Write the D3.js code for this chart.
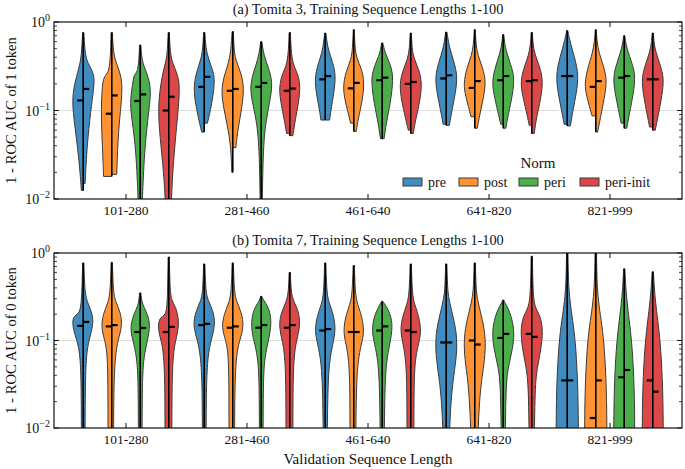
<!DOCTYPE html>
<html><head><meta charset="utf-8">
<script src="https://cdn.jsdelivr.net/npm/d3@7"></script>
<style>body{margin:0;background:#fff}text{font-family:"Liberation Serif","Times New Roman",serif;fill:#111}</style>
</head><body>
<svg id="c" width="685" height="469"></svg>
<script>
const categories = ["101-280","281-460","461-640","641-820","821-999"];
const norms = ["pre","post","peri","peri-init"];
const normColors = ["#408bbf","#ff9232","#4bae4b","#dc4748"];
const yTickValues = [1, 0.1, 0.01];
const yTickExps = ["0","\u22121","\u22122"];
const titles = ["(a) Tomita 3, Training Sequence Lengths 1-100","(b) Tomita 7, Training Sequence Lengths 1-100"];
const yLabels = ["1 - ROC AUC of 1 token","1 - ROC AUC of 0 token"];
const xLabel = "Validation Sequence Length";

// medians [left half, right half] per group, per norm
const mediansA = [
  [[0.13,0.175],[0.092,0.148],[0.128,0.152],[0.1,0.143]],
  [[0.185,0.24],[0.167,0.175],[0.185,0.205],[0.167,0.177]],
  [[0.225,0.245],[0.178,0.205],[0.22,0.235],[0.2,0.21]],
  [[0.23,0.25],[0.18,0.215],[0.22,0.245],[0.215,0.22]],
  [[0.245,0.245],[0.185,0.215],[0.235,0.245],[0.225,0.225]]
];
const mediansB = [
  [[0.147,0.163],[0.145,0.15],[0.125,0.139],[0.125,0.143]],
  [[0.15,0.155],[0.14,0.145],[0.14,0.15],[0.14,0.15]],
  [[0.13,0.135],[0.125,0.125],[0.13,0.145],[0.13,0.125]],
  [[0.095,0.095],[0.1,0.09],[0.107,0.119],[0.119,0.11]],
  [[0.035,0.035],[0.013,0.035],[0.038,0.046],[0.035,0.026]]
];

// violin half outlines: [value, relative density] from bottom to top; [left half, right half]
const shapesA = [
  [
    [[[0.0125,0.15],[0.03,0.35],[0.07,0.7],[0.13,0.9],[0.2,0.7],[0.3,0.35],[0.4,0.15],[0.76,0.05]],
     [[0.015,0.15],[0.04,0.3],[0.1,0.6],[0.18,0.85],[0.25,0.9],[0.32,0.5],[0.4,0.15],[0.76,0.05]]],
    [[[0.018,0.65],[0.04,0.75],[0.09,0.85],[0.15,0.8],[0.24,0.7],[0.26,0.3],[0.35,0.12],[0.76,0.05]],
     [[0.019,0.4],[0.05,0.5],[0.1,0.7],[0.17,0.85],[0.25,0.75],[0.33,0.4],[0.45,0.12],[0.76,0.05]]],
    [[[0.008,0.15],[0.03,0.3],[0.07,0.6],[0.12,0.85],[0.2,0.6],[0.26,0.5],[0.27,0.15],[0.55,0.05]],
     [[0.008,0.15],[0.03,0.3],[0.08,0.6],[0.15,0.85],[0.22,0.75],[0.3,0.35],[0.38,0.12],[0.55,0.05]]],
    [[[0.008,0.25],[0.02,0.4],[0.05,0.7],[0.1,0.85],[0.18,0.7],[0.3,0.4],[0.4,0.12],[0.76,0.05]],
     [[0.008,0.2],[0.02,0.3],[0.06,0.6],[0.14,0.85],[0.22,0.85],[0.3,0.5],[0.4,0.12],[0.76,0.05]]]
  ],
  [
    [[[0.057,0.2],[0.08,0.45],[0.13,0.75],[0.19,0.85],[0.28,0.6],[0.4,0.2],[0.55,0.1],[0.76,0.05]],
     [[0.072,0.25],[0.1,0.5],[0.16,0.75],[0.24,0.85],[0.32,0.55],[0.45,0.18],[0.6,0.1],[0.76,0.05]]],
    [[[0.02,0.08],[0.04,0.15],[0.07,0.45],[0.12,0.8],[0.17,0.9],[0.25,0.7],[0.38,0.2],[0.78,0.05]],
     [[0.038,0.25],[0.06,0.4],[0.11,0.75],[0.18,0.9],[0.26,0.7],[0.38,0.2],[0.5,0.1],[0.78,0.05]]],
    [[[0.008,0.08],[0.04,0.15],[0.08,0.4],[0.13,0.75],[0.19,0.9],[0.28,0.6],[0.4,0.2],[0.6,0.05]],
     [[0.008,0.08],[0.04,0.15],[0.08,0.4],[0.14,0.75],[0.21,0.9],[0.3,0.6],[0.42,0.2],[0.6,0.05]]],
    [[[0.055,0.25],[0.08,0.45],[0.12,0.7],[0.17,0.85],[0.24,0.7],[0.3,0.35],[0.4,0.12],[0.76,0.05]],
     [[0.052,0.25],[0.08,0.45],[0.12,0.7],[0.18,0.85],[0.25,0.7],[0.31,0.35],[0.42,0.12],[0.76,0.05]]]
  ],
  [
    [[[0.078,0.35],[0.1,0.45],[0.15,0.7],[0.23,0.85],[0.33,0.6],[0.45,0.25],[0.6,0.12],[0.75,0.05]],
     [[0.078,0.35],[0.1,0.45],[0.16,0.7],[0.25,0.85],[0.35,0.6],[0.48,0.25],[0.62,0.12],[0.75,0.05]]],
    [[[0.072,0.25],[0.1,0.5],[0.14,0.75],[0.19,0.85],[0.27,0.65],[0.38,0.2],[0.5,0.1],[0.82,0.04]],
     [[0.058,0.2],[0.08,0.35],[0.13,0.7],[0.21,0.85],[0.29,0.65],[0.4,0.2],[0.52,0.1],[0.82,0.04]]],
    [[[0.048,0.15],[0.07,0.3],[0.12,0.65],[0.22,0.9],[0.3,0.7],[0.42,0.25],[0.5,0.12],[0.58,0.05]],
     [[0.048,0.15],[0.07,0.3],[0.12,0.65],[0.23,0.9],[0.32,0.7],[0.44,0.25],[0.52,0.12],[0.58,0.05]]],
    [[[0.06,0.2],[0.08,0.4],[0.13,0.75],[0.2,0.9],[0.28,0.65],[0.38,0.25],[0.5,0.1],[0.75,0.05]],
     [[0.055,0.2],[0.08,0.4],[0.13,0.75],[0.21,0.9],[0.29,0.65],[0.39,0.25],[0.5,0.1],[0.75,0.05]]]
  ],
  [
    [[[0.07,0.25],[0.1,0.45],[0.16,0.75],[0.24,0.9],[0.35,0.6],[0.5,0.25],[0.65,0.12],[0.77,0.05]],
     [[0.068,0.25],[0.1,0.45],[0.16,0.75],[0.25,0.9],[0.36,0.6],[0.52,0.25],[0.67,0.12],[0.77,0.05]]],
    [[[0.085,0.3],[0.11,0.5],[0.15,0.75],[0.2,0.9],[0.3,0.65],[0.42,0.25],[0.55,0.1],[0.82,0.04]],
     [[0.063,0.2],[0.09,0.4],[0.14,0.7],[0.21,0.9],[0.3,0.65],[0.42,0.25],[0.55,0.1],[0.82,0.04]]],
    [[[0.07,0.2],[0.1,0.45],[0.15,0.75],[0.22,0.9],[0.32,0.6],[0.45,0.25],[0.58,0.1],[0.72,0.05]],
     [[0.063,0.2],[0.09,0.4],[0.15,0.75],[0.24,0.9],[0.33,0.6],[0.46,0.25],[0.58,0.1],[0.72,0.05]]],
    [[[0.068,0.2],[0.1,0.45],[0.15,0.75],[0.21,0.9],[0.3,0.65],[0.42,0.25],[0.55,0.1],[0.76,0.05]],
     [[0.055,0.2],[0.08,0.35],[0.14,0.75],[0.22,0.9],[0.31,0.65],[0.43,0.25],[0.55,0.1],[0.76,0.05]]]
  ],
  [
    [[[0.07,0.25],[0.1,0.45],[0.16,0.75],[0.25,0.9],[0.37,0.65],[0.55,0.3],[0.7,0.12],[0.8,0.05]],
     [[0.067,0.25],[0.1,0.45],[0.16,0.75],[0.25,0.9],[0.37,0.65],[0.55,0.3],[0.7,0.12],[0.8,0.05]]],
    [[[0.087,0.3],[0.11,0.5],[0.15,0.75],[0.2,0.9],[0.3,0.65],[0.45,0.25],[0.6,0.1],[0.82,0.04]],
     [[0.057,0.15],[0.08,0.35],[0.14,0.7],[0.22,0.9],[0.31,0.65],[0.45,0.25],[0.6,0.1],[0.82,0.04]]],
    [[[0.072,0.25],[0.1,0.45],[0.16,0.75],[0.24,0.9],[0.34,0.6],[0.48,0.25],[0.6,0.1],[0.7,0.05]],
     [[0.063,0.2],[0.09,0.4],[0.16,0.75],[0.25,0.9],[0.35,0.6],[0.48,0.25],[0.6,0.1],[0.7,0.05]]],
    [[[0.065,0.25],[0.09,0.45],[0.15,0.75],[0.23,0.9],[0.33,0.6],[0.45,0.25],[0.58,0.1],[0.75,0.05]],
     [[0.06,0.2],[0.09,0.45],[0.15,0.75],[0.23,0.9],[0.33,0.6],[0.45,0.25],[0.58,0.1],[0.75,0.05]]]
  ]
];

const shapesB = [
  [
    [[[0.005,0.15],[0.03,0.15],[0.07,0.25],[0.1,0.5],[0.14,0.85],[0.19,0.85],[0.2,0.3],[0.28,0.12],[0.77,0.05]],
     [[0.005,0.15],[0.03,0.15],[0.07,0.25],[0.1,0.45],[0.15,0.8],[0.2,0.75],[0.27,0.35],[0.35,0.12],[0.77,0.05]]],
    [[[0.005,0.3],[0.03,0.3],[0.07,0.35],[0.1,0.55],[0.14,0.85],[0.2,0.7],[0.27,0.3],[0.35,0.12],[0.78,0.05]],
     [[0.005,0.15],[0.03,0.15],[0.07,0.3],[0.1,0.5],[0.15,0.85],[0.21,0.7],[0.28,0.3],[0.36,0.12],[0.78,0.05]]],
    [[[0.005,0.15],[0.03,0.15],[0.06,0.25],[0.09,0.5],[0.13,0.8],[0.18,0.65],[0.23,0.3],[0.27,0.12],[0.35,0.05]],
     [[0.005,0.15],[0.03,0.15],[0.06,0.25],[0.09,0.5],[0.14,0.8],[0.19,0.65],[0.24,0.3],[0.28,0.12],[0.35,0.05]]],
    [[[0.005,0.3],[0.03,0.3],[0.07,0.4],[0.1,0.6],[0.13,0.85],[0.185,0.8],[0.19,0.2],[0.3,0.1],[0.9,0.05]],
     [[0.005,0.25],[0.03,0.25],[0.07,0.35],[0.1,0.55],[0.15,0.85],[0.23,0.65],[0.28,0.25],[0.36,0.1],[0.9,0.05]]]
  ],
  [
    [[[0.005,0.15],[0.03,0.15],[0.07,0.3],[0.1,0.55],[0.15,0.9],[0.21,0.7],[0.28,0.3],[0.35,0.12],[0.75,0.05]],
     [[0.005,0.15],[0.03,0.15],[0.07,0.3],[0.1,0.55],[0.155,0.9],[0.22,0.7],[0.29,0.3],[0.36,0.12],[0.75,0.05]]],
    [[[0.005,0.3],[0.03,0.3],[0.07,0.35],[0.1,0.55],[0.14,0.9],[0.2,0.7],[0.27,0.3],[0.35,0.12],[0.77,0.05]],
     [[0.005,0.15],[0.03,0.15],[0.07,0.3],[0.1,0.55],[0.145,0.9],[0.21,0.7],[0.28,0.3],[0.36,0.12],[0.77,0.05]]],
    [[[0.005,0.15],[0.03,0.15],[0.06,0.25],[0.09,0.5],[0.13,0.8],[0.2,0.75],[0.26,0.35],[0.29,0.12],[0.32,0.05]],
     [[0.005,0.15],[0.03,0.15],[0.06,0.25],[0.09,0.5],[0.14,0.8],[0.21,0.75],[0.27,0.35],[0.3,0.12],[0.32,0.05]]],
    [[[0.005,0.3],[0.03,0.3],[0.07,0.4],[0.1,0.6],[0.14,0.85],[0.2,0.75],[0.27,0.3],[0.35,0.1],[0.6,0.05]],
     [[0.005,0.25],[0.03,0.25],[0.07,0.35],[0.1,0.55],[0.15,0.85],[0.22,0.7],[0.28,0.3],[0.36,0.1],[0.6,0.05]]]
  ],
  [
    [[[0.005,0.15],[0.03,0.2],[0.06,0.35],[0.09,0.6],[0.13,0.85],[0.19,0.65],[0.26,0.3],[0.34,0.12],[0.77,0.05]],
     [[0.005,0.15],[0.03,0.2],[0.06,0.35],[0.09,0.6],[0.135,0.85],[0.2,0.65],[0.27,0.3],[0.35,0.12],[0.77,0.05]]],
    [[[0.005,0.3],[0.03,0.3],[0.06,0.4],[0.09,0.6],[0.125,0.85],[0.19,0.65],[0.26,0.3],[0.34,0.12],[0.72,0.05]],
     [[0.005,0.15],[0.03,0.2],[0.06,0.35],[0.09,0.6],[0.125,0.85],[0.19,0.65],[0.26,0.3],[0.34,0.12],[0.72,0.05]]],
    [[[0.005,0.15],[0.03,0.2],[0.06,0.35],[0.09,0.6],[0.13,0.85],[0.19,0.65],[0.24,0.3],[0.27,0.12],[0.28,0.05]],
     [[0.005,0.15],[0.03,0.2],[0.06,0.35],[0.09,0.6],[0.145,0.85],[0.2,0.65],[0.25,0.3],[0.27,0.12],[0.28,0.05]]],
    [[[0.005,0.3],[0.03,0.3],[0.06,0.4],[0.09,0.6],[0.13,0.85],[0.19,0.65],[0.26,0.3],[0.34,0.12],[0.75,0.05]],
     [[0.005,0.25],[0.03,0.25],[0.06,0.35],[0.09,0.6],[0.125,0.85],[0.19,0.65],[0.26,0.3],[0.34,0.12],[0.75,0.05]]]
  ],
  [
    [[[0.005,0.2],[0.02,0.35],[0.04,0.6],[0.07,0.85],[0.12,0.85],[0.2,0.5],[0.3,0.2],[0.4,0.1],[0.75,0.05]],
     [[0.005,0.2],[0.02,0.35],[0.04,0.6],[0.07,0.85],[0.12,0.85],[0.2,0.5],[0.3,0.2],[0.4,0.1],[0.75,0.05]]],
    [[[0.005,0.25],[0.02,0.4],[0.04,0.6],[0.07,0.85],[0.12,0.85],[0.2,0.5],[0.3,0.2],[0.4,0.1],[0.77,0.05]],
     [[0.005,0.2],[0.02,0.35],[0.04,0.6],[0.07,0.85],[0.12,0.85],[0.2,0.5],[0.3,0.2],[0.4,0.1],[0.77,0.05]]],
    [[[0.005,0.15],[0.03,0.2],[0.05,0.4],[0.08,0.75],[0.12,0.9],[0.18,0.7],[0.24,0.35],[0.27,0.12],[0.29,0.05]],
     [[0.005,0.15],[0.03,0.2],[0.05,0.4],[0.08,0.75],[0.12,0.9],[0.18,0.7],[0.24,0.35],[0.27,0.12],[0.29,0.05]]],
    [[[0.005,0.2],[0.03,0.25],[0.05,0.45],[0.08,0.75],[0.13,0.9],[0.19,0.7],[0.23,0.3],[0.32,0.1],[0.92,0.05]],
     [[0.005,0.2],[0.03,0.25],[0.05,0.45],[0.08,0.75],[0.13,0.9],[0.19,0.7],[0.23,0.3],[0.32,0.1],[0.92,0.05]]]
  ],
  [
    [[[0.001,0.9],[0.01,0.9],[0.03,0.85],[0.08,0.7],[0.15,0.5],[0.25,0.25],[0.4,0.12],[0.7,0.07],[1.3,0.05]],
     [[0.001,0.9],[0.01,0.9],[0.03,0.85],[0.08,0.7],[0.15,0.5],[0.25,0.25],[0.4,0.12],[0.7,0.07],[1.3,0.05]]],
    [[[0.001,0.9],[0.01,0.9],[0.03,0.85],[0.08,0.7],[0.15,0.5],[0.25,0.25],[0.4,0.12],[0.7,0.07],[1.3,0.05]],
     [[0.001,0.9],[0.01,0.9],[0.03,0.85],[0.08,0.7],[0.15,0.5],[0.25,0.25],[0.4,0.12],[0.7,0.07],[1.3,0.05]]],
    [[[0.001,0.85],[0.01,0.85],[0.03,0.8],[0.08,0.65],[0.15,0.45],[0.25,0.25],[0.4,0.12],[0.66,0.05]],
     [[0.001,0.85],[0.01,0.85],[0.03,0.8],[0.08,0.65],[0.15,0.45],[0.25,0.25],[0.4,0.12],[0.66,0.05]]],
    [[[0.001,0.85],[0.01,0.85],[0.03,0.8],[0.08,0.65],[0.15,0.45],[0.25,0.25],[0.4,0.12],[0.61,0.05]],
     [[0.001,0.85],[0.01,0.85],[0.03,0.8],[0.08,0.65],[0.15,0.45],[0.25,0.25],[0.4,0.12],[0.61,0.05]]]
  ]
];

const panels = [
  {title: titles[0], ylabel: yLabels[0], shapes: shapesA, medians: mediansA, top: 22, bottom: 199, legend: true},
  {title: titles[1], ylabel: yLabels[1], shapes: shapesB, medians: mediansB, top: 253, bottom: 428, legend: false}
];

const svg = d3.select("#c");
const L = 54, R = 682, MAXW = 12.5;
const x = d3.scaleLinear().domain([-0.595, categories.length - 1 + 0.595]).range([L, R]);
const hue = d3.scaleBand().domain(norms).range([-57, 57]);
const edge = "#3a3a3a";

panels.forEach((p, pi) => {
  const y = d3.scaleLog().domain([0.01, 1]).range([p.bottom, p.top]);
  const g = svg.append("g");
  const clipId = "clip" + pi;
  svg.append("clipPath").attr("id", clipId).append("rect")
    .attr("x", L).attr("y", p.top).attr("width", R - L).attr("height", p.bottom - p.top);

  g.append("line").attr("x1", L).attr("x2", R).attr("y1", y(0.1)).attr("y2", y(0.1))
    .attr("stroke", "#dcdcdc").attr("stroke-width", 1);

  const plot = g.append("g").attr("clip-path", `url(#${clipId})`);
  categories.forEach((cat, ci) => {
    norms.forEach((nm, hi) => {
      const cx = x(ci) + hue(nm) + hue.bandwidth() / 2;
      const [sl, sr] = p.shapes[ci][hi];
      [sl, sr].forEach((s, side) => {
        const dir = side === 0 ? -1 : 1;
        const area = d3.area()
          .y(d => y(d[0]))
          .x0(cx)
          .x1(d => cx + dir * d[1] * MAXW)
          .curve(d3.curveBasis);
        plot.append("path").attr("d", area(s))
          .attr("fill", normColors[hi]).attr("stroke", edge).attr("stroke-width", 1);
      });
      const lo = Math.min(sl[0][0], sr[0][0]);
      const hiV = Math.max(sl[sl.length - 1][0], sr[sr.length - 1][0]);
      plot.append("line").attr("x1", cx).attr("x2", cx).attr("y1", y(lo)).attr("y2", y(hiV))
        .attr("stroke", "#000").attr("stroke-width", 1.5);
      const [mL, mR] = p.medians[ci][hi];
      plot.append("line").attr("x1", cx - 6).attr("x2", cx).attr("y1", y(mL)).attr("y2", y(mL))
        .attr("stroke", "#000").attr("stroke-width", 2.2);
      plot.append("line").attr("x1", cx).attr("x2", cx + 6).attr("y1", y(mR)).attr("y2", y(mR))
        .attr("stroke", "#000").attr("stroke-width", 2.2);
    });
  });

  g.append("rect").attr("x", L).attr("y", p.top).attr("width", R - L).attr("height", p.bottom - p.top)
    .attr("fill", "none").attr("stroke", "#111").attr("stroke-width", 1.2);

  const minor = [];
  [0.01, 0.1].forEach(d => { for (let k = 2; k <= 9; k++) minor.push(d * k); });
  [L, R].forEach((xx, si) => {
    const dir = si === 0 ? 1 : -1;
    yTickValues.forEach(v => g.append("line").attr("x1", xx).attr("x2", xx + dir * 5)
      .attr("y1", y(v)).attr("y2", y(v)).attr("stroke", "#111").attr("stroke-width", 1));
    minor.forEach(v => g.append("line").attr("x1", xx).attr("x2", xx + dir * 3)
      .attr("y1", y(v)).attr("y2", y(v)).attr("stroke", "#111").attr("stroke-width", 0.8));
  });
  categories.forEach((cat, ci) => {
    g.append("line").attr("x1", x(ci)).attr("x2", x(ci)).attr("y1", p.bottom).attr("y2", p.bottom - 5)
      .attr("stroke", "#111").attr("stroke-width", 1);
    g.append("line").attr("x1", x(ci)).attr("x2", x(ci)).attr("y1", p.top).attr("y2", p.top + 5)
      .attr("stroke", "#111").attr("stroke-width", 1);
    g.append("text").attr("x", x(ci)).attr("y", p.bottom + 16).attr("text-anchor", "middle")
      .attr("font-size", 13.5).text(cat);
  });
  yTickValues.forEach((v, i) => {
    const t = g.append("text").attr("x", 50).attr("y", y(v) + 5).attr("text-anchor", "end").attr("font-size", 14);
    t.append("tspan").text("10");
    t.append("tspan").attr("dy", -6).attr("font-size", 10).text(yTickExps[i]);
  });
  g.append("text").attr("x", (L + R) / 2).attr("y", p.top - 8).attr("text-anchor", "middle")
    .attr("font-size", 14.3).text(p.title);
  g.append("text").attr("transform", `translate(16,${(p.top + p.bottom) / 2}) rotate(-90)`)
    .attr("text-anchor", "middle").attr("font-size", 14.7).text(p.ylabel);

  if (p.legend) {
    const lg = g.append("g");
    lg.append("text").attr("x", 538).attr("y", 168).attr("text-anchor", "middle").attr("font-size", 15).text("Norm");
    const lx = [403, 459, 519, 580];
    norms.forEach((nm, i) => {
      lg.append("rect").attr("x", lx[i]).attr("y", 178).attr("width", 19).attr("height", 8)
        .attr("fill", normColors[i]).attr("stroke", edge).attr("stroke-width", 1);
      lg.append("text").attr("x", lx[i] + 25).attr("y", 187).attr("font-size", 14).text(nm);
    });
  }
});

svg.append("text").attr("x", (L + R) / 2).attr("y", 464).attr("text-anchor", "middle")
  .attr("font-size", 15).text(xLabel);
</script>
</body></html>
